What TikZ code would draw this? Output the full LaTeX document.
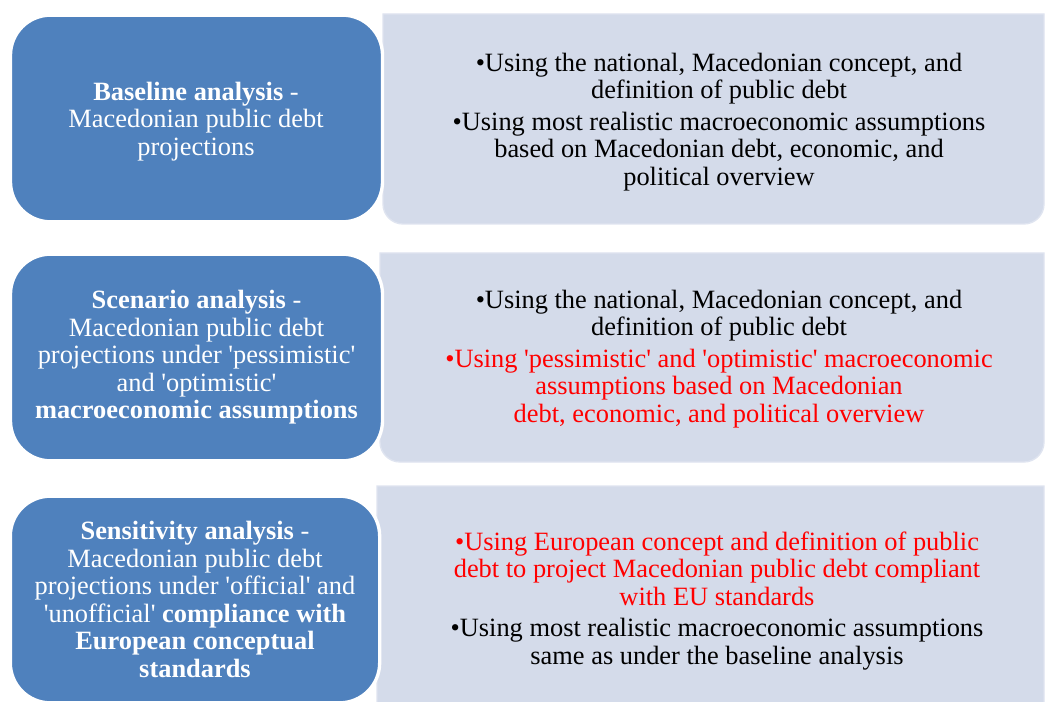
\documentclass[tikz,border=0pt]{standalone}
\usepackage{fontspec}
\setmainfont{Liberation Serif}
\usetikzlibrary{positioning}

\definecolor{stepblue}{RGB}{79,129,189}
\definecolor{panelgrey}{RGB}{212,219,234}
\definecolor{paneledge}{RGB}{223,228,240}

% straight quotes around a word
\newcommand{\sq}[1]{\textquotesingle#1\textquotesingle}

\begin{document}
\begin{tikzpicture}[x=0.75pt, y=-0.75pt,
    kind/.style={rectangle, rounded corners=30pt, fill=stepblue, draw=white, line width=2.5pt, minimum width=279pt, minimum height=155pt, text=white, align=center, font=\fontsize{19.8}{20.6}\selectfont},
    panel/.style={fill=panelgrey, draw=paneledge, line width=1pt},
    notes/.style={align=center, font=\fontsize{19.8}{20.6}\selectfont}
]
    \clip (0,0) rectangle (1046,702);
    \fill[white] (0,0) rectangle (1046,702);

    % Right panels, square on the left, rounded on the right
    \path[panel] (383,14) -- (1044,14) [rounded corners=15pt] -- (1044,224) -- (383,224) [sharp corners] -- cycle;
    \path[panel] (380,253) -- (1044,253) [rounded corners=15pt] -- (1044,462) -- (380,462) [sharp corners] -- cycle;
    \path[panel] (377,486) -- (1044,486) [rounded corners=15pt] -- (1044,730) -- (377,730) [sharp corners] -- cycle;

    % Kinds of analysis
    \node[kind] (baseline) at (196.5,118.5) {};
    \node[white, align=center, font=\fontsize{19.8}{20.6}\selectfont] (baseline-title) at (196,121.5) {\textbf{Baseline analysis} -\\Macedonian public debt\\projections};
    \node[kind] (scenario) at (196.5,357.5) {\textbf{Scenario analysis} -\\Macedonian public debt\\projections under \sq{pessimistic}\\and \sq{optimistic}\\\textbf{macroeconomic assumptions}};
    \node[kind, minimum width=277pt] (sensitivity) at (195,599.5) {\textbf{Sensitivity analysis} -\\Macedonian public debt\\projections under \sq{official} and\\\sq{unofficial} \textbf{compliance with}\\\textbf{European conceptual}\\\textbf{standards}};

    % What each analysis uses
    \node[notes] (baseline-notes) at (719,122) {\textbullet Using the national, Macedonian concept, and\\definition of public debt\\[3pt]
        \textbullet Using most realistic macroeconomic assumptions\\based on Macedonian debt, economic, and\\political overview};
    \node[notes] (scenario-notes) at (719,359) {\textbullet Using the national, Macedonian concept, and\\definition of public debt\\[3pt]
        \color{red}\textbullet Using \sq{pessimistic} and \sq{optimistic} macroeconomic\\\color{red}assumptions based on Macedonian\\\color{red}debt, economic, and political overview};
    \node[notes] (sensitivity-notes) at (717,601) {\color{red}\textbullet Using European concept and definition of public\\\color{red}debt to project Macedonian public debt compliant\\\color{red}with EU standards\\[3pt]
        \textbullet Using most realistic macroeconomic assumptions\\same as under the baseline analysis};
\end{tikzpicture}
\end{document}
